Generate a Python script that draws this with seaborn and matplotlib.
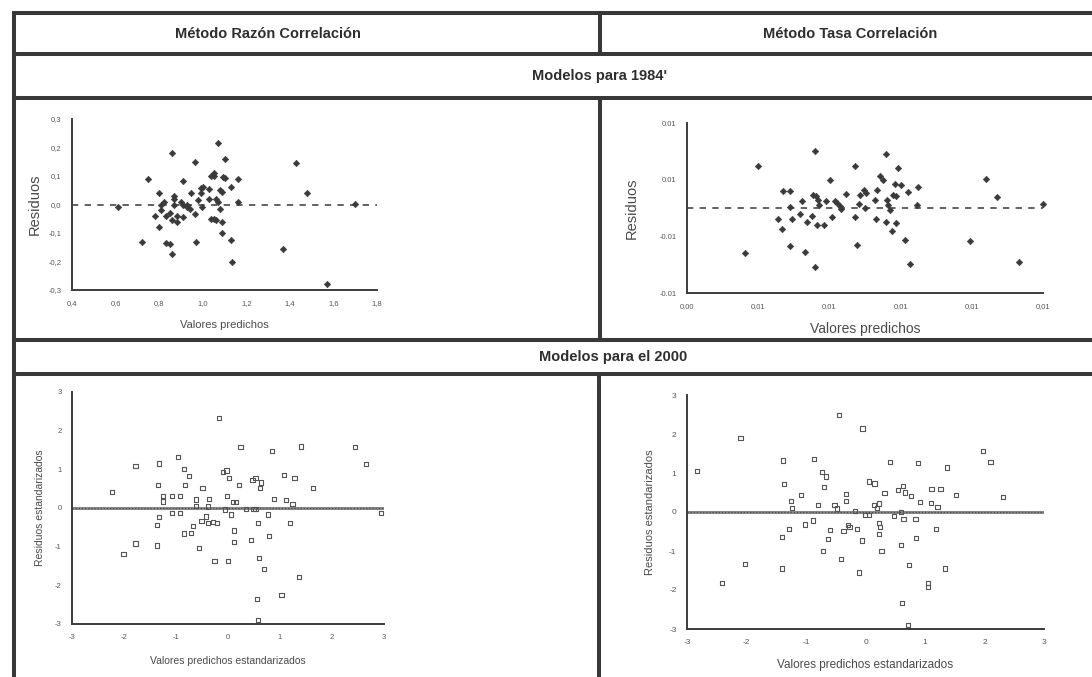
import matplotlib
matplotlib.use("Agg")
import matplotlib.pyplot as plt
import seaborn as sns
from matplotlib.lines import Line2D

# ---------------- data ----------------
# Modelos para 1984 - Método Razón Correlación
razon84_pred = [0.61, 0.75, 0.72, 0.80, 0.80, 0.78, 0.81, 0.81, 0.83, 0.83,
                0.85, 0.86, 0.86, 0.87, 0.87, 0.85, 0.86, 0.88, 0.87, 0.90,
                0.91, 0.91, 0.91, 0.93, 0.93, 0.945, 0.965, 0.965, 0.97, 0.98,
                0.99, 0.99, 1.00, 0.995, 1.03, 1.03, 1.04, 1.04, 1.05, 1.05,
                1.07, 1.06, 1.07, 1.06, 1.08, 1.08, 1.09, 1.09, 1.09, 1.095,
                1.10, 1.10, 1.13, 1.13, 1.135, 1.16, 1.16, 1.37, 1.43, 1.48,
                1.57, 1.70, 0.82, 0.88, 0.94, 1.05]
razon84_res = [-0.01, 0.09, -0.13, 0.04, -0.08, -0.04, 0.00, -0.02, -0.04, -0.135,
               -0.14, 0.18, -0.175, 0.03, 0.02, -0.03, -0.055, -0.06, 0.00, 0.01,
               0.00, 0.083, -0.045, 0.00, -0.01, 0.04, 0.148, -0.035, -0.13, 0.015,
               0.04, 0.058, 0.06, -0.008, 0.02, 0.055, -0.05, 0.10, 0.11, 0.10,
               0.215, 0.02, 0.01, -0.055, -0.015, 0.05, 0.045, -0.06, -0.10, 0.095,
               0.092, 0.16, 0.06, -0.125, -0.203, 0.088, 0.008, -0.156, 0.145, 0.04,
               -0.279, 0.002, 0.01, -0.04, -0.015, -0.05]

# Modelos para 1984 - Método Tasa Correlación
tasa84_pred = [0.00562, 0.00600, 0.00656, 0.00668, 0.00670, 0.00689, 0.00689, 0.00689, 0.00694, 0.00717,
               0.00722, 0.00738, 0.00750, 0.00731, 0.00759, 0.00755, 0.00762, 0.00768, 0.00764, 0.00759,
               0.00771, 0.00786, 0.00790, 0.00801, 0.00806, 0.00816, 0.00822, 0.00830, 0.00832, 0.00848,
               0.00872, 0.00872, 0.00878, 0.00884, 0.00886, 0.00897, 0.00903, 0.00900, 0.00928, 0.00933,
               0.00931, 0.00942, 0.00950, 0.00959, 0.00963, 0.00966, 0.00970, 0.00959, 0.00975, 0.00980,
               0.00988, 0.00985, 0.01001, 0.00992, 0.00987, 0.01013, 0.01022, 0.01027, 0.01050, 0.01045,
               0.01196, 0.01240, 0.01270, 0.01332, 0.01400]
tasa84_res = [-0.00794, 0.00747, -0.00194, -0.00371, 0.00306, 0.00306, 0.00018, -0.00676, -0.00194, -0.00100,
              0.00118, -0.00253, -0.00135, -0.00782, 0.01012, 0.00235, 0.00206, 0.00147, -0.00294, -0.01040,
              0.00060, -0.00294, 0.00130, 0.00488, -0.00159, 0.00130, 0.00090, 0.00030, -0.00010, 0.00253,
              0.00747, -0.00159, -0.00647, 0.00076, 0.00224, 0.00324, 0.00265, 0.00000, 0.00135, 0.00312,
              -0.00194, 0.00559, 0.00488, 0.00953, 0.00147, 0.00060, -0.00030, -0.00253, -0.00412, 0.00235,
              0.00220, 0.00429, 0.00406, 0.00706, -0.00265, -0.00571, 0.00276, -0.00982, 0.00371, 0.00047,
              -0.00576, 0.00512, 0.00188, -0.00959, 0.00070]

# Modelos para el 2000 - Método Razón Correlación
razon00_pred = [-2.23, -2.01, -1.78, -1.78, -1.35, -1.33, -1.36, -1.32, -1.36, -1.25,
                -1.25, -1.07, -1.07, -0.96, -0.93, -0.93, -0.85, -0.75, -0.82, -0.84,
                -0.71, -0.67, -0.62, -0.62, -0.55, -0.51, -0.49, -0.42, -0.39, -0.39,
                -0.37, -0.29, -0.21, -0.26, -0.18, -0.10, -0.03, -0.06, -0.02, 0.02,
                0.00, 0.06, 0.10, 0.16, 0.11, 0.11, 0.21, 0.24, 0.35, 0.45,
                0.49, 0.53, 0.47, 0.53, 0.63, 0.61, 0.55, 0.58, 0.60, 0.58,
                0.69, 0.77, 0.79, 0.84, 0.89, 1.08, 1.11, 1.24, 1.03, 1.19,
                1.28, 1.37, 1.40, 1.63, 2.44, 2.65, 2.94]
razon00_res = [0.41, -1.19, 1.08, -0.92, 0.60, 1.15, -0.43, -0.23, -0.97, 0.30,
               0.17, 0.30, -0.13, 1.32, 0.30, -0.13, 1.01, 0.82, 0.60, -0.66,
               -0.65, -0.47, 0.22, 0.05, -1.03, -0.34, 0.52, -0.22, -0.39, 0.04,
               0.23, -0.37, -0.39, -1.38, 2.33, 0.93, 0.97, -0.04, 0.30, 0.78,
               -1.38, -0.17, 0.15, 0.16, -0.58, -0.89, 0.60, 1.58, -0.03, -0.82,
               -0.03, -0.03, 0.72, 0.78, 0.66, 0.52, -2.35, -0.39, -1.29, -2.89,
               -1.58, -0.17, -0.72, 1.47, 0.23, 0.86, 0.21, 0.11, -2.26, -0.39,
               0.78, -1.78, 1.59, 0.52, 1.58, 1.14, -0.13]

# Modelos para el 2000 - Método Tasa Correlación
tasa00_pred = [-2.83, -2.41, -2.10, -2.02, -1.39, -1.37, -1.40, -1.40, -1.29, -1.25,
               -1.23, -1.08, -1.02, -0.88, -0.87, -0.80, -0.73, -0.66, -0.70, -0.71,
               -0.63, -0.59, -0.52, -0.48, -0.45, -0.41, -0.37, -0.33, -0.33, -0.29,
               -0.27, -0.17, -0.14, -0.11, -0.05, -0.06, -0.01, 0.06, 0.06, 0.15,
               0.14, 0.20, 0.23, 0.23, 0.25, 0.23, 0.27, 0.32, 0.41, 0.48,
               0.55, 0.59, 0.59, 0.63, 0.67, 0.64, 0.62, 0.73, 0.77, 0.71,
               0.84, 0.85, 0.88, 0.91, 1.10, 1.21, 1.05, 1.05, 1.11, 1.26,
               1.19, 1.33, 1.37, 1.52, 1.97, 2.10, 2.31]
tasa00_res = [1.05, -1.81, 1.90, -1.33, 1.32, 0.71, -0.65, -1.45, -0.43, 0.28,
              0.10, 0.43, -0.32, -0.22, 1.36, 0.17, 1.02, 0.91, 0.65, -0.99,
              -0.69, -0.47, 0.17, 0.09, 2.48, -1.21, -0.48, 0.47, 0.28, -0.34,
              -0.38, 0.02, -0.43, -1.55, 2.14, -0.73, -0.07, -0.07, 0.78, 0.73,
              0.19, 0.10, 0.22, -0.28, -0.39, -0.56, -0.99, 0.49, 1.28, -0.10,
              0.57, -0.84, -0.01, 0.66, 0.50, -0.17, -2.33, -1.36, 0.41, -2.89,
              -0.17, -0.66, 1.25, 0.26, 0.24, 0.13, -1.81, -1.92, 0.60, 0.60,
              -0.43, -1.45, 1.14, 0.43, 1.57, 1.28, 0.39]

# tick values / labels
razon84_xticks = [0.4, 0.6, 0.8, 1.0, 1.2, 1.4, 1.6, 1.8]
razon84_xlabels = ["0,4", "0,6", "0,8", "1,0", "1,2", "1,4", "1,6", "1,8"]
razon84_yticks = [0.3, 0.2, 0.1, 0.0, -0.1, -0.2, -0.3]
razon84_ylabels = ["0,3", "0,2", "0,1", "0,0", "-0,1", "-0,2", "-0,3"]
tasa84_xticks = [0.004, 0.006, 0.008, 0.010, 0.012, 0.014]
tasa84_xlabels = ["0,00", "0,01", "0,01", "0,01", "0,01", "0,01"]
tasa84_yticks = [0.015, 0.005, -0.005, -0.015]
tasa84_ylabels = ["0.01", "0.01", "-0.01", "-0.01"]
std_ticks = [-3, -2, -1, 0, 1, 2, 3]
std_labels = ["-3", "-2", "-1", "0", "1", "2", "3"]

col_titles = ["Método Razón Correlación", "Método Tasa Correlación"]
row_titles = ["Modelos para 1984'", "Modelos para el 2000"]

# ---------------- figure ----------------
sns.set_theme(style="white")
plt.rcParams['font.family'] = ['Liberation Sans', 'DejaVu Sans']

W, H = 1092, 677
fig = plt.figure(figsize=(W / 100, H / 100), dpi=100)
fig.patch.set_facecolor("white")

LC = "#383838"
LW = 2.9


def hline(y, x0, x1):
    fig.add_artist(Line2D([x0 / W, x1 / W], [1 - y / H, 1 - y / H], color=LC, lw=LW,
                          solid_capstyle="butt"))


def vline(x, y0, y1):
    fig.add_artist(Line2D([x / W, x / W], [1 - y0 / H, 1 - y1 / H], color=LC, lw=LW,
                          solid_capstyle="butt"))


for yy in [13, 54, 98, 340, 374]:
    hline(yy, 12, W)
vline(14, 11.5, H)
vline(600, 13, 54)
vline(600, 98, 340)
vline(599, 374, H)

hdr = dict(ha="center", va="center", fontsize=10.5, fontweight="bold", color="#2e2e2e")
fig.text(268 / W, 1 - 33.5 / H, col_titles[0], **hdr)
fig.text(850 / W, 1 - 33.5 / H, col_titles[1], **hdr)
fig.text(600 / W, 1 - 76 / H, row_titles[0], **hdr)
fig.text(613 / W, 1 - 357 / H, row_titles[1], **hdr)


def add_ax(x0, x1, ytop, ybot):
    return fig.add_axes([x0 / W, 1 - ybot / H, (x1 - x0) / W, (ybot - ytop) / H])


def style(ax, labelsize):
    for s in ["top", "right"]:
        ax.spines[s].set_visible(False)
    for s in ["left", "bottom"]:
        ax.spines[s].set_color("#3c3c3c")
        ax.spines[s].set_linewidth(1.4)
    ax.tick_params(direction="inout", length=5, width=1, colors="#3c3c3c",
                   labelsize=labelsize, labelcolor="#555555", pad=5)
    ax.set_facecolor("white")


AX = "#3a3a3a"
TXT = "#4a4a4a"

# Panel 1
ax1 = add_ax(72, 377, 119, 290)
sns.scatterplot(x=razon84_pred, y=razon84_res, ax=ax1, marker="D", s=11,
                color=AX, edgecolor=AX, linewidth=0.4, legend=False, zorder=3)
ax1.axhline(0.0, color="#555555", lw=1.3, ls=(0, (3.5, 3.5)), zorder=2)
ax1.set_xlim(0.4, 1.8)
ax1.set_ylim(-0.3, 0.3)
ax1.set_xticks(razon84_xticks, razon84_xlabels)
ax1.set_yticks(razon84_yticks, razon84_ylabels)
style(ax1, 5.5)
ax1.set_xlabel("Valores predichos", fontsize=8, color=TXT)
ax1.xaxis.set_label_coords(0.5, -0.175)
ax1.set_ylabel("Residuos", fontsize=10.5, color=TXT)
ax1.yaxis.set_label_coords(-0.10, 0.5)

# Panel 2
ax2 = add_ax(687, 1043, 123, 293)
sns.scatterplot(x=tasa84_pred, y=tasa84_res, ax=ax2, marker="D", s=11,
                color=AX, edgecolor=AX, linewidth=0.4, legend=False, zorder=3)
ax2.axhline(0.0, color="#555555", lw=1.3, ls=(0, (3.5, 3.5)), zorder=2)
ax2.set_xlim(0.004, 0.014)
ax2.set_ylim(-0.015, 0.015)
ax2.set_xticks(tasa84_xticks, tasa84_xlabels)
ax2.set_yticks(tasa84_yticks, tasa84_ylabels)
style(ax2, 5.5)
ax2.set_xlabel("Valores predichos", fontsize=10, color=TXT)
ax2.xaxis.set_label_coords(0.5, -0.17)
ax2.set_ylabel("Residuos", fontsize=10.5, color=TXT)
ax2.yaxis.set_label_coords(-0.135, 0.5)

# Panel 3
ax3 = add_ax(72, 384, 392, 624)
ax3.axhline(0.0, color="#8a8a8a", lw=2.2, zorder=2)
ax3.axhline(0.0, color="#4a4a4a", lw=0.9, ls=(0, (1, 1.5)), zorder=2)
sns.scatterplot(x=razon00_pred, y=razon00_res, ax=ax3, marker="s", s=9,
                facecolor="none", edgecolor="#555555", linewidth=0.8, legend=False, zorder=3)
ax3.set_xlim(-3, 3)
ax3.set_ylim(-3, 3)
ax3.set_xticks(std_ticks, std_labels)
ax3.set_yticks(std_ticks, std_labels)
style(ax3, 5.5)
ax3.set_xlabel("Valores predichos estandarizados", fontsize=7.5, color=TXT)
ax3.xaxis.set_label_coords(0.5, -0.14)
ax3.set_ylabel("Residuos estandarizados", fontsize=7.5, color=TXT)
ax3.yaxis.set_label_coords(-0.085, 0.5)

# Panel 4
ax4 = add_ax(687, 1044, 395, 629)
ax4.axhline(0.0, color="#8a8a8a", lw=2.2, zorder=2)
ax4.axhline(0.0, color="#4a4a4a", lw=0.9, ls=(0, (1, 1.5)), zorder=2)
sns.scatterplot(x=tasa00_pred, y=tasa00_res, ax=ax4, marker="s", s=9,
                facecolor="none", edgecolor="#555555", linewidth=0.8, legend=False, zorder=3)
ax4.set_xlim(-3, 3)
ax4.set_ylim(-3, 3)
ax4.set_xticks(std_ticks, std_labels)
ax4.set_yticks(std_ticks, std_labels)
style(ax4, 6)
ax4.set_xlabel("Valores predichos estandarizados", fontsize=8.5, color=TXT)
ax4.xaxis.set_label_coords(0.5, -0.13)
ax4.set_ylabel("Residuos estandarizados", fontsize=8, color=TXT)
ax4.yaxis.set_label_coords(-0.09, 0.5)

for ax in (ax1, ax2, ax3, ax4):
    for c in ax.collections:
        c.set_clip_on(False)

fig.savefig("out.png", dpi=100, facecolor="white")
